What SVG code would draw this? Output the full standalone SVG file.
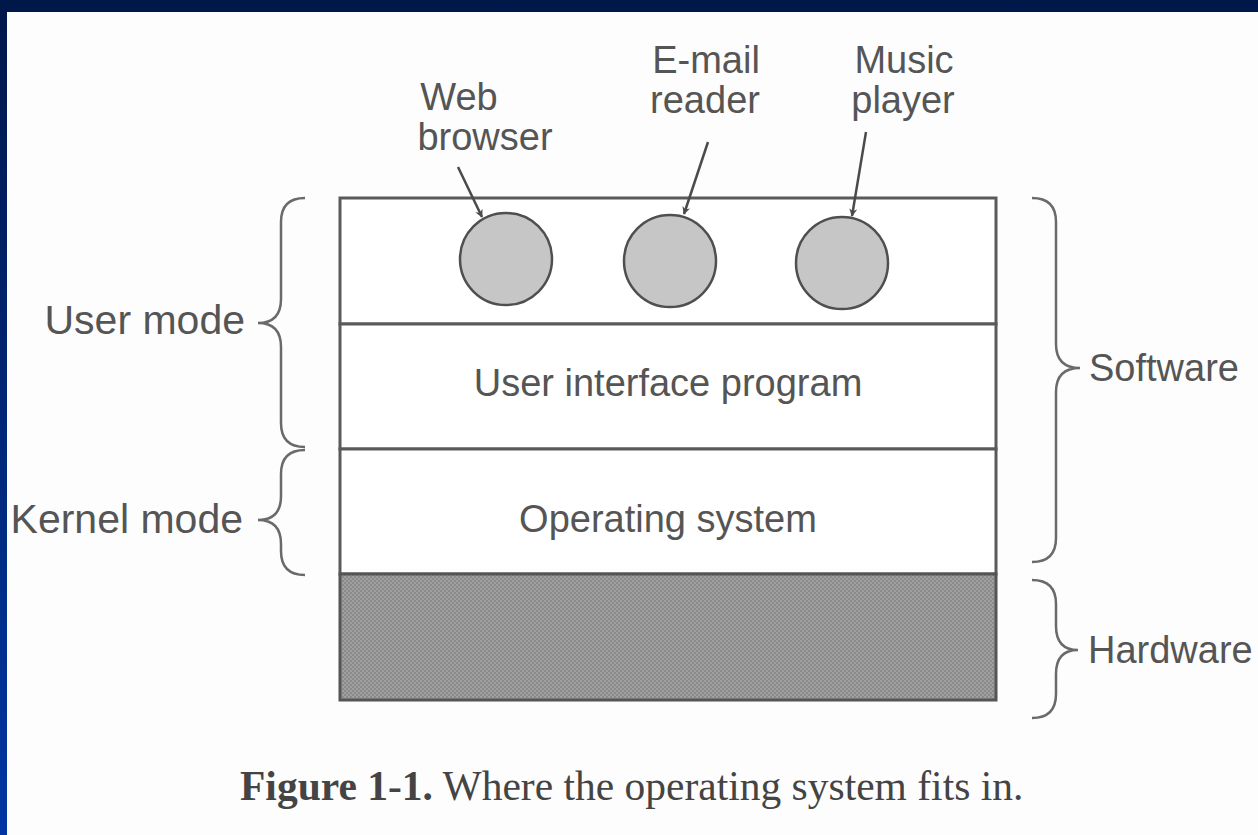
<svg xmlns="http://www.w3.org/2000/svg" width="1258" height="835" viewBox="0 0 1258 835">
  <defs>
    <linearGradient id="bg" x1="0" y1="0" x2="0" y2="1">
      <stop offset="0" stop-color="#00174a"/>
      <stop offset="1" stop-color="#0036a3"/>
    </linearGradient>
    <pattern id="stipple" width="4" height="4" patternUnits="userSpaceOnUse">
      <rect width="4" height="4" fill="#8a8a8a"/>
      <rect width="2" height="2" fill="#a0a0a0"/>
      <rect x="2" y="2" width="2" height="2" fill="#a0a0a0"/>
    </pattern>
    <marker id="arrow" viewBox="0 0 10 10" refX="9" refY="5" markerWidth="8" markerHeight="8" markerUnits="userSpaceOnUse" orient="auto">
      <path d="M0,0 L10,5 L0,10 L3,5 Z" fill="#4a4a4a"/>
    </marker>
    <style>
      .lbl { font-family: "Liberation Sans", Arial, sans-serif; font-size: 38px; fill: #555; }
      .side { font-size: 41px; }
      .box { fill: #fff; stroke: #5a5a5a; stroke-width: 3; }
      .hw { fill: url(#stipple); stroke: #555; stroke-width: 3; }
      .app { fill: #c6c6c6; stroke: #4f4f4f; stroke-width: 2.5; }
      .brace { fill: none; stroke: #6a6a6a; stroke-width: 2.5; }
      .conn { stroke: #4a4a4a; stroke-width: 2.5; fill: none; }
      .cap { font-family: "Liberation Serif", "Times New Roman", serif; font-size: 41.5px; fill: #444; }
    </style>
  </defs>

  <!-- slide backdrop and page -->
  <rect width="1258" height="835" fill="url(#bg)"/>
  <rect x="7" y="12" width="1251" height="823" fill="#fdfdfd"/>

  <!-- layered stack -->
  <g id="user-apps">
    <rect class="box" x="340" y="198" width="656" height="126"/>
  </g>
  <g id="ui-program">
    <rect class="box" x="340" y="324" width="656" height="125"/>
    <text class="lbl" x="668" y="396" text-anchor="middle">User interface program</text>
  </g>
  <g id="operating-system">
    <rect class="box" x="340" y="449" width="656" height="125"/>
    <text class="lbl" x="668" y="532" text-anchor="middle">Operating system</text>
  </g>
  <g id="hardware">
    <rect class="hw" x="340" y="574" width="656" height="126"/>
  </g>

  <!-- application programs -->
  <g id="web-browser">
    <circle class="app" cx="506" cy="259" r="46"/>
    <text class="lbl" x="459" y="110" text-anchor="middle">Web</text>
    <text class="lbl" x="485" y="150" text-anchor="middle">browser</text>
  </g>
  <g id="email-reader">
    <circle class="app" cx="670" cy="261" r="46"/>
    <text class="lbl" x="706" y="73" text-anchor="middle">E-mail</text>
    <text class="lbl" x="705" y="113" text-anchor="middle">reader</text>
  </g>
  <g id="music-player">
    <circle class="app" cx="842" cy="263" r="46"/>
    <text class="lbl" x="904" y="73" text-anchor="middle">Music</text>
    <text class="lbl" x="903" y="113" text-anchor="middle">player</text>
  </g>

  <!-- brace labels -->
  <g id="user-mode">
    <path class="brace" d="M305,198 Q281,198 281,222 L281,299 Q281,323 258,323 Q281,323 281,347 L281,423 Q281,447 305,447"/>
    <text class="lbl side" x="245" y="334" text-anchor="end">User mode</text>
  </g>
  <g id="kernel-mode">
    <path class="brace" d="M305,450 Q281,450 281,474 L281,496 Q281,520 258,520 Q281,520 281,544 L281,551 Q281,575 305,575"/>
    <text class="lbl side" x="243" y="533" text-anchor="end">Kernel mode</text>
  </g>
  <g id="software">
    <path class="brace" d="M1032,198 Q1056,198 1056,222 L1056,344 Q1056,368 1080,368 Q1056,368 1056,392 L1056,538 Q1056,562 1032,562"/>
    <text class="lbl" x="1089" y="381">Software</text>
  </g>
  <g id="hw-label">
    <path class="brace" d="M1032,580 Q1056,580 1056,604 L1056,626 Q1056,650 1078,650 Q1056,650 1056,674 L1056,694 Q1056,718 1032,718"/>
    <text class="lbl" x="1088" y="663">Hardware</text>
  </g>

  <!-- pointer arrows -->
  <g id="connectors">
    <line class="conn" x1="458" y1="167" x2="482" y2="217" marker-end="url(#arrow)"/>
    <line class="conn" x1="708" y1="142" x2="684" y2="214" marker-end="url(#arrow)"/>
    <line class="conn" x1="866" y1="132" x2="852" y2="216" marker-end="url(#arrow)"/>
  </g>

  <!-- caption -->
  <text class="cap" x="240" y="800"><tspan font-weight="bold">Figure 1-1.</tspan> Where the operating system fits in.</text>
</svg>
